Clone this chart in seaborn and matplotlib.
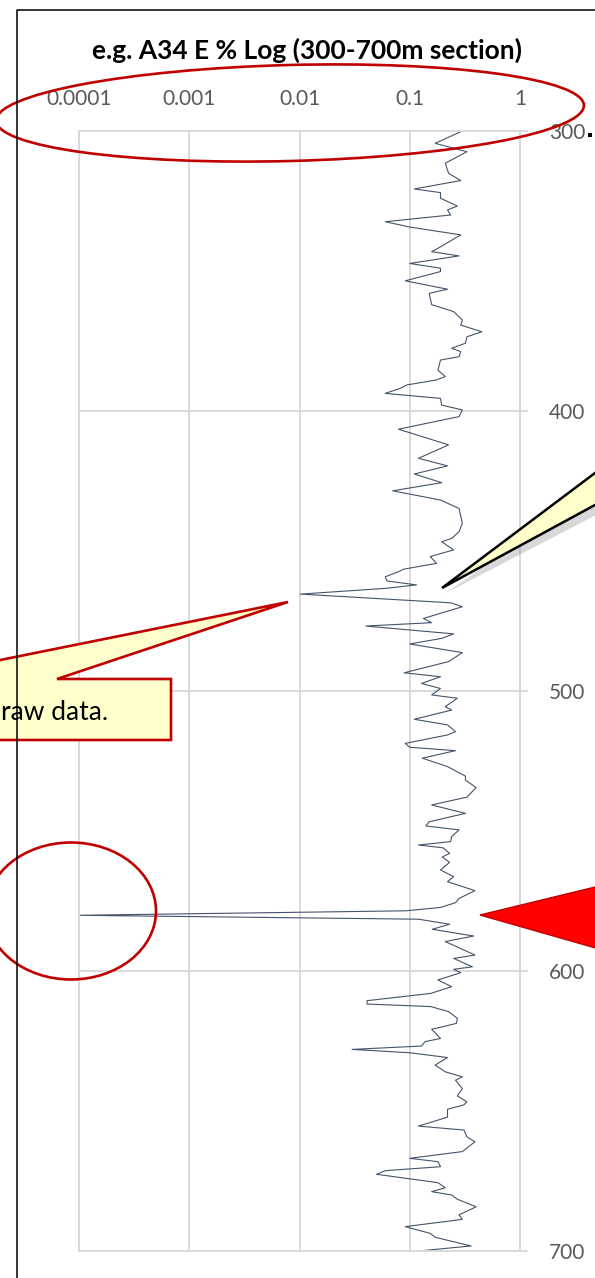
import matplotlib.pyplot as plt
import matplotlib.patches as mpatches
from matplotlib.lines import Line2D
import pandas as pd
import seaborn as sns

sns.set_theme(style="white")
plt.rcParams["font.family"] = ["Lato", "DejaVu Sans"]

# data (depth in m, E value in %)
depth = [300, 304.4, 307.4, 311.5, 315.1, 317.7, 320.7, 322, 324, 326.8,
         328.2, 330, 332.4, 334.3, 337.1, 341.9, 343.1, 344.6, 347.3, 349,
         350.2, 353.5, 356.5, 358, 362, 364.5, 367.5, 369.3, 371.7, 373.5,
         375.8, 377.6, 378.8, 380.6, 381.8, 385.4, 387.7, 388.9, 390.7, 391.9,
         393.7, 395.5, 397.9, 399.6, 402, 406.5, 412.1, 416.9, 419.6, 422.5,
         425.6, 428.5, 431.8, 434.8, 440.1, 443.1, 445.5, 446.7, 449.6, 452,
         454.4, 456.5, 457.4, 459.2, 460.7, 462.1, 463.3, 465.4, 468.5, 469.9,
         474.1, 475.6, 476.8, 479.6, 481.2, 483.2, 486.3, 489.5, 493.5, 494.9,
         497.3, 499.1, 501.4, 502.6, 505.6, 506.8, 510.1, 512.1, 514.5, 515.7,
         518.7, 520.1, 521.3, 524, 527, 530.4, 531.8, 534.5, 537.9, 540.7,
         543.7, 546.7, 548.2, 549.6, 552, 553.8, 555, 556, 558, 559.3,
         561.2, 563.9, 566.3, 568.1, 571.3, 574.1, 575.6, 577.3, 578.5, 580.1,
         581.5, 583.3, 585.1, 587.5, 589.5, 594.3, 595.5, 598.5, 599.4, 600.6,
         603.2, 605.6, 608, 610.6, 611.8, 612.7, 614.5, 616.9, 618.7, 619.9,
         620.8, 624.1, 625.2, 626.8, 628, 629.2, 630.9, 633.6, 636, 637.8,
         639, 642, 644.6, 646.7, 647.8, 649.4, 652.2, 655.4, 656.8, 659.2,
         661, 664.5, 666.9, 668.1, 669.9, 671.3, 672.6, 675.6, 677.4, 678.8,
         680, 681.5, 684.2, 687.1, 688.7, 691.3, 693.7, 695.1, 698.2, 700]
e_pct = [0.30, 0.17, 0.33, 0.21, 0.225, 0.29, 0.11, 0.19, 0.19, 0.27,
         0.22, 0.235, 0.060, 0.10, 0.29, 0.18, 0.158, 0.28, 0.10, 0.19,
         0.19, 0.091, 0.22, 0.15, 0.158, 0.25, 0.30, 0.29, 0.45, 0.33,
         0.32, 0.24, 0.29, 0.28, 0.19, 0.18, 0.21, 0.175, 0.094, 0.082,
         0.060, 0.19, 0.195, 0.30, 0.28, 0.079, 0.225, 0.12, 0.22, 0.11,
         0.195, 0.070, 0.19, 0.28, 0.30, 0.28, 0.24, 0.195, 0.25, 0.153,
         0.175, 0.088, 0.079, 0.060, 0.062, 0.115, 0.062, 0.0102, 0.235, 0.30,
         0.133, 0.158, 0.040, 0.25, 0.195, 0.10, 0.30, 0.225, 0.089, 0.19,
         0.128, 0.19, 0.158, 0.27, 0.21, 0.24, 0.11, 0.22, 0.26, 0.22,
         0.091, 0.10, 0.26, 0.13, 0.22, 0.32, 0.32, 0.40, 0.33, 0.158,
         0.32, 0.15, 0.14, 0.28, 0.24, 0.235, 0.12, 0.20, 0.23, 0.197,
         0.23, 0.19, 0.25, 0.22, 0.39, 0.28, 0.26, 0.19, 0.093, 0.0001,
         0.12, 0.23, 0.16, 0.38, 0.21, 0.39, 0.25, 0.37, 0.25, 0.29,
         0.18, 0.24, 0.155, 0.041, 0.041, 0.155, 0.225, 0.27, 0.265, 0.20,
         0.158, 0.19, 0.138, 0.128, 0.030, 0.10, 0.22, 0.17, 0.21, 0.30,
         0.26, 0.30, 0.27, 0.33, 0.31, 0.22, 0.22, 0.12, 0.31, 0.33,
         0.39, 0.30, 0.10, 0.18, 0.19, 0.060, 0.050, 0.18, 0.21, 0.158,
         0.24, 0.27, 0.40, 0.28, 0.30, 0.091, 0.153, 0.17, 0.36, 0.12]

x_ticks = [0.0001, 0.001, 0.01, 0.1, 1]
x_labels = ["0.0001", "0.001", "0.01", "0.1", "1"]
y_ticks = [300, 400, 500, 600, 700]
title = "e.g. A34 E % Log (300-700m section)"

W, H = 595, 1278
fig = plt.figure(figsize=(W / 100, H / 100), dpi=100)
ax = fig.add_axes([79 / W, 1 - 1251 / H, (520 - 79) / W, (1251 - 131) / H])

df = pd.DataFrame({"depth": depth, "e": e_pct})
sns.lineplot(data=df, x="e", y="depth", orient="y", sort=False, estimator=None,
             color="#44546A", linewidth=0.8, ax=ax)

ax.set_xscale("log")
ax.set_xlim(1e-4, 1)
ax.set_ylim(700, 300)
ax.set_xticks(x_ticks, x_labels)
ax.set_yticks(y_ticks)
ax.minorticks_off()
ax.xaxis.tick_top()
ax.yaxis.tick_right()
ax.tick_params(axis="x", length=0, pad=16, labelsize=15, labelcolor="#595959")
ax.tick_params(axis="y", length=5.8, width=1.4, color="#D9D9D9", pad=15,
               labelsize=15, labelcolor="#595959")
ax.grid(True, color="#D9D9D9", linewidth=1.4)
for s in ax.spines.values():
    s.set_color("#D9D9D9")
    s.set_linewidth(1.4)
ax.set_xlabel("")
ax.set_ylabel("")

fig.text(307 / W, 1 - 50 / H, title, ha="center", va="center",
         fontsize=19, fontweight="bold", color="black")

# overlay for the markup shapes (pixel coords, y down)
ov = fig.add_axes([0, 0, 1, 1], zorder=5)
ov.set_xlim(0, W)
ov.set_ylim(H, 0)
ov.axis("off")
ov.patch.set_alpha(0)

ov.add_line(Line2D([17, 17, 620], [1300, 10, 10], color="black", linewidth=1.1))

red = "#C00000"
ov.add_patch(mpatches.Ellipse((290, 113), 588, 96, angle=-1.5, fill=False,
                              edgecolor=red, linewidth=1.9))
ov.add_patch(mpatches.Ellipse((71, 911), 170, 137, fill=False,
                              edgecolor=red, linewidth=1.9))

# callout with red border
ov.add_patch(mpatches.Polygon([(-120, 740), (-120, 679), (-94, 679), (288, 602),
                               (57, 679), (171, 679), (171, 740)],
                              closed=True, facecolor="#FFFFCC", edgecolor=red,
                              linewidth=1.9))
ov.text(1, 712, "raw data.", ha="left", va="center", fontsize=19, color="black")

# callout with black border and shadow
ov.add_patch(mpatches.Polygon([(446, 593), (625, 466), (625, 500)], closed=True,
                              facecolor="#7F7F7F", edgecolor="none", alpha=0.3))
ov.add_patch(mpatches.Polygon([(442, 588), (620, 454.2), (620, 491.4)], closed=True,
                              facecolor="#FFFFCC", edgecolor="black", linewidth=1.8))

# red arrow head
ov.add_patch(mpatches.Polygon([(480, 915), (620, 881), (620, 955)], closed=True,
                              facecolor="#FF0000", edgecolor=red, linewidth=1))

ov.add_patch(mpatches.Rectangle((588, 133), 4, 4, facecolor="black", edgecolor="none"))

plt.savefig("out.png", dpi=100)
